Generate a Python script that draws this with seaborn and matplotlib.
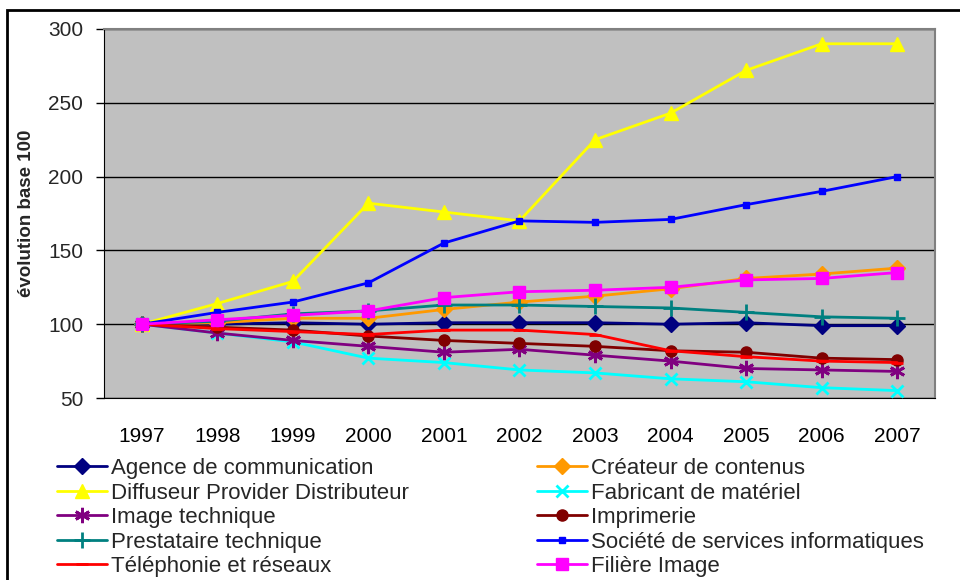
import matplotlib
matplotlib.use("Agg")
import matplotlib.pyplot as plt
import seaborn as sns
import pandas as pd
from matplotlib.patches import Rectangle
from matplotlib.ticker import FixedLocator

years = ["1997", "1998", "1999", "2000", "2001", "2002", "2003", "2004", "2005", "2006", "2007"]

agence = [100, 100, 101, 100, 101, 101, 101, 100, 101, 99, 99]
createur = [100, 101, 104, 104, 110, 115, 119, 124, 131, 134, 138]
diffuseur = [100, 114, 129, 182, 176, 170, 225, 243, 272, 290, 290]
fabricant = [100, 94, 88, 77, 74, 69, 67, 63, 61, 57, 55]
image_tech = [100, 94, 89, 85, 81, 83, 79, 75, 70, 69, 68]
imprimerie = [100, 98, 96, 92, 89, 87, 85, 82, 81, 77, 76]
prestataire = [100, 102, 107, 109, 113, 113, 112, 111, 108, 105, 104]
societe = [100, 108, 115, 128, 155, 170, 169, 171, 181, 190, 200]
telephonie = [100, 97, 95, 93, 96, 96, 93, 82, 78, 75, 74]
filiere = [100, 103, 106, 109, 118, 122, 123, 125, 130, 131, 135]

names = ["Agence de communication", "Créateur de contenus",
         "Diffuseur Provider Distributeur", "Fabricant de matériel",
         "Image technique", "Imprimerie",
         "Prestataire technique", "Société de services informatiques",
         "Téléphonie et réseaux", "Filière Image"]
series = [agence, createur, diffuseur, fabricant, image_tech, imprimerie,
          prestataire, societe, telephonie, filiere]

styles = {
    "Agence de communication": dict(color="#000080", marker="D", ms=8),
    "Créateur de contenus": dict(color="#FF9900", marker="D", ms=8),
    "Diffuseur Provider Distributeur": dict(color="#FFFF00", marker="^", ms=10),
    "Fabricant de matériel": dict(color="#00FFFF", marker="x", ms=9),
    "Image technique": dict(color="#800080", marker=(6, 2, 0), ms=11),
    "Imprimerie": dict(color="#800000", marker="o", ms=8),
    "Prestataire technique": dict(color="#008080", marker="+", ms=11),
    "Société de services informatiques": dict(color="#0000FF", marker="s", ms=4),
    "Téléphonie et réseaux": dict(color="#FF0000", marker="_", ms=9),
    "Filière Image": dict(color="#FF00FF", marker="s", ms=9),
}

rows = []
for n, vals in zip(names, series):
    for i, v in enumerate(vals):
        rows.append({"serie": n, "x": i, "value": v})
df = pd.DataFrame(rows)

sns.set_style("white")
plt.rcParams["font.family"] = ["Liberation Sans", "DejaVu Sans"]

fig = plt.figure(figsize=(9.6, 5.8), dpi=100)
ax = fig.add_axes([104 / 960, 1 - 398 / 580, (935 - 104) / 960, (398 - 29) / 580])
ax.set_facecolor("#C0C0C0")

handles = {}
for n in names:
    st = styles[n]
    sub = df[df["serie"] == n]
    sns.lineplot(data=sub, x="x", y="value", ax=ax, color=st["color"],
                 marker=st["marker"], markersize=st["ms"],
                 markeredgecolor=st["color"], markerfacecolor=st["color"],
                 markeredgewidth=2 if st["marker"] in ("x", "+", "_", (6, 2, 0)) else 1,
                 linewidth=2, label=n, legend=False, zorder=3)
    handles[n] = ax.lines[-1]

ax.set_xlim(-0.5, len(years) - 0.5)
ax.set_ylim(50, 300)
ax.set_yticks([50, 100, 150, 200, 250, 300])
ax.set_xticks(range(len(years)))
ax.set_xticklabels(years)
ax.xaxis.set_minor_locator(FixedLocator([i - 0.5 for i in range(len(years) + 1)]))
ax.tick_params(axis="x", which="major", length=0, labelsize=15, pad=21, colors="black")
ax.tick_params(axis="x", which="minor", length=6, width=1, color="black", direction="out")
ax.tick_params(axis="y", which="major", length=6, width=1, color="black",
               direction="out", labelsize=15, left=True, pad=9)
ax.grid(axis="y", color="black", linewidth=1)
ax.grid(axis="x", visible=False)
ax.set_axisbelow(True)
for side in ["top", "right"]:
    ax.spines[side].set_color("#808080")
    ax.spines[side].set_linewidth(1.5)
ax.spines["left"].set_color("black")
ax.spines["bottom"].set_color("black")
ax.set_xlabel("")
ax.set_ylabel("évolution base 100", fontsize=13.5, fontweight="bold")
ax.yaxis.set_label_coords(-0.083, 0.5)

left_col = [names[i] for i in (0, 2, 4, 6, 8)]
right_col = [names[i] for i in (1, 3, 5, 7, 9)]
leg_kw = dict(loc="upper left", frameon=False, fontsize=16, handlelength=2.25,
              handletextpad=0.2, labelspacing=0.16, borderpad=0, borderaxespad=0)
leg1 = fig.legend([handles[n] for n in left_col], left_col,
                  bbox_to_anchor=(57 / 960, 1 - 458 / 580), **leg_kw)
leg2 = fig.legend([handles[n] for n in right_col], right_col,
                  bbox_to_anchor=(537 / 960, 1 - 458 / 580), **leg_kw)

fig.patches.append(Rectangle((7 / 960, -0.2), 1.2, 1 - 10 / 580 + 0.2,
                             transform=fig.transFigure, fill=False,
                             edgecolor="black", linewidth=2))

fig.savefig("out.png", dpi=100)
